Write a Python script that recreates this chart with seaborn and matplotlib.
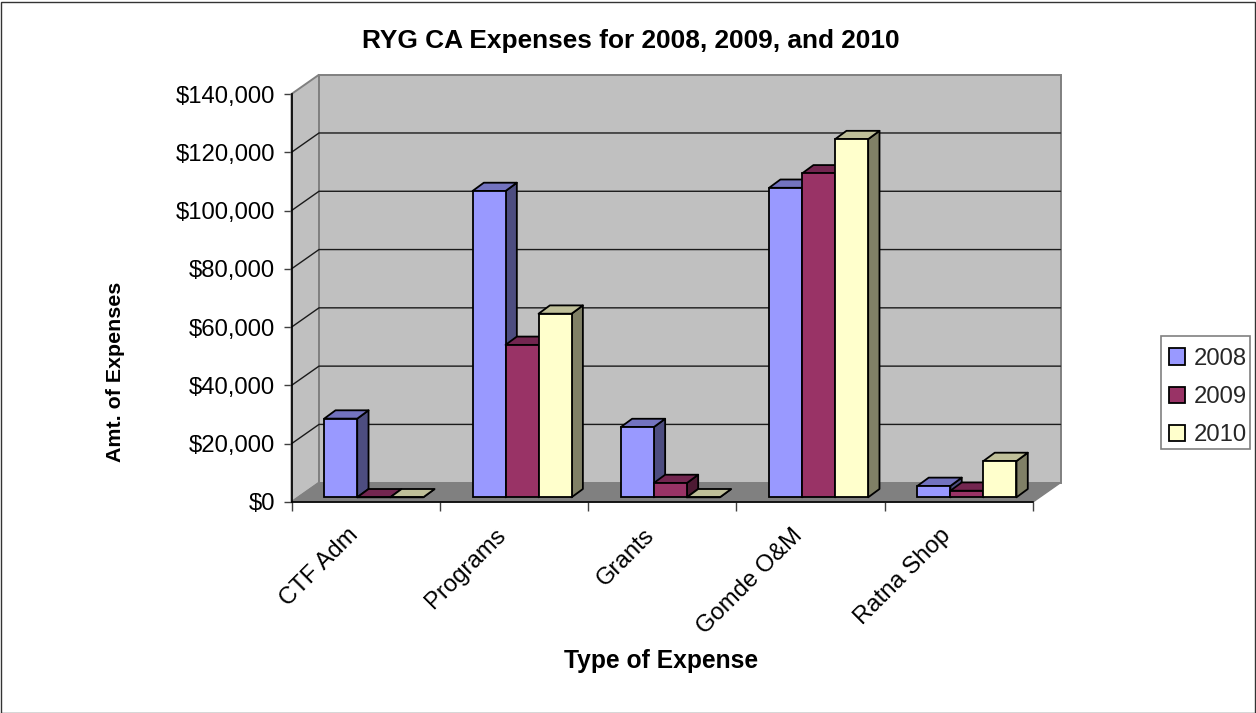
"""
RYG CA expenses, Excel style 3D columns drawn on a flat seaborn barplot
"""
import matplotlib
matplotlib.use('Agg')
import matplotlib.pyplot as plt
from matplotlib.patches import Polygon, Rectangle
from matplotlib.ticker import FuncFormatter
from matplotlib.transforms import ScaledTranslation
import pandas as pd
import seaborn as sns

categories = ['CTF Adm', 'Programs', 'Grants', 'Gomde O&M', 'Ratna Shop']
years = ['2008', '2009', '2010']
values_2008 = [27000, 105100, 24100, 106200, 3900]
values_2009 = [0, 52300, 4900, 111150, 2260]
values_2010 = [0, 63000, 0, 122900, 12450]
y_ticks = [0, 20000, 40000, 60000, 80000, 100000, 120000, 140000]

front_colors = {'2008': '#9999FF', '2009': '#993366', '2010': '#FFFFCC'}
top_colors = {'2008': '#7373BF', '2009': '#732650', '2010': '#BFBF99'}
side_colors = {'2008': '#4D4D80', '2009': '#4D1A33', '2010': '#808066'}

W, H = 1256, 713
# front plane of the chart in pixels
LEFT, RIGHT, BASE, TOP = 291.5, 1033, 502, 94
PX_X = 5 / (RIGHT - LEFT)
PX_Y = 140000 / (BASE - TOP)
# depth offsets
WALL_DX, WALL_DY = 27.5 * PX_X, 19.3 * PX_Y
BAR_DX, BAR_DY = 11.3 * PX_X, 8.3 * PX_Y
SHIFT_X, SHIFT_Y = 8.1 * PX_X, 4.7 * PX_Y

sns.set_theme(style='white')
plt.rcParams['font.family'] = ['Liberation Sans', 'DejaVu Sans']

df = pd.DataFrame({'Type': categories, '2008': values_2008,
                   '2009': values_2009, '2010': values_2010})
long_df = df.melt(id_vars='Type', var_name='Year', value_name='Amount')

fig = plt.figure(figsize=(W / 100, H / 100), dpi=100)
ax = fig.add_axes([LEFT / W, 1 - BASE / H, (RIGHT - LEFT) / W, (BASE - TOP) / H])
ax.patch.set_alpha(0)

sns.barplot(data=long_df, x='Type', y='Amount', hue='Year', order=categories,
            hue_order=years, palette=front_colors, saturation=1, width=0.668,
            gap=0, edgecolor='black', linewidth=1.3, ax=ax)
x0, x1 = -0.5, 4.5
ax.set_xlim(x0, x1)
ax.set_ylim(0, 140000)

# walls and floor
wall_kw = dict(edgecolor='#808080', linewidth=1.4, clip_on=False, zorder=1)
ax.add_patch(Polygon([(x0, 0), (x0 + WALL_DX, WALL_DY), (x0 + WALL_DX, 140000 + WALL_DY), (x0, 140000)],
                     facecolor='#C0C0C0', **wall_kw))
ax.add_patch(Polygon([(x0 + WALL_DX, WALL_DY), (x1 + WALL_DX, WALL_DY),
                      (x1 + WALL_DX, 140000 + WALL_DY), (x0 + WALL_DX, 140000 + WALL_DY)],
                     facecolor='#C0C0C0', **wall_kw))
ax.add_patch(Polygon([(x0, 0), (x1, 0), (x1 + WALL_DX, WALL_DY), (x0 + WALL_DX, WALL_DY)],
                     facecolor='#808080', edgecolor='#808080', linewidth=1, clip_on=False, zorder=1.1))

# gridlines on the back wall and the side wall
for v in y_ticks[1:-1]:
    ax.plot([x0, x0 + WALL_DX, x1 + WALL_DX], [v, v + WALL_DY, v + WALL_DY],
            color='#1A1A1A', lw=1.0, clip_on=False, zorder=1.2)

# turn each flat bar into a box
z = 3
for year, container in zip(years, ax.containers):
    for bar in container:
        bar.set_x(bar.get_x() + SHIFT_X)
        bar.set_y(bar.get_y() + SHIFT_Y)
        bx, by, bw, bh = bar.get_x(), bar.get_y(), bar.get_width(), bar.get_height()
        box_kw = dict(edgecolor='black', linewidth=1.3, joinstyle='round', clip_on=False)
        ax.add_patch(Polygon([(bx + bw, by), (bx + bw + BAR_DX, by + BAR_DY),
                              (bx + bw + BAR_DX, by + bh + BAR_DY), (bx + bw, by + bh)],
                             facecolor=side_colors[year], zorder=z, **box_kw))
        ax.add_patch(Polygon([(bx, by + bh), (bx + BAR_DX, by + bh + BAR_DY),
                              (bx + bw + BAR_DX, by + bh + BAR_DY), (bx + bw, by + bh)],
                             facecolor=top_colors[year], zorder=z + 0.1, **box_kw))
        bar.set_zorder(z + 0.2)
        bar.set_clip_on(False)
    z += 1

# axes
sns.despine(ax=ax)
for side in ['left', 'bottom']:
    ax.spines[side].set_color('black')
    ax.spines[side].set_linewidth(1.2)
    ax.spines[side].set_zorder(2.5)

ax.set_yticks(y_ticks)
ax.yaxis.set_major_formatter(FuncFormatter(lambda v, _: f'${v:,.0f}'))
ax.tick_params(axis='y', left=True, length=5.8, width=1, color='#404040', pad=6, labelsize=17.2, labelcolor='black')

ax.set_xticks([x0 + i for i in range(6)])
ax.set_xticklabels([])
ax.tick_params(axis='x', which='major', bottom=True, length=6.5, width=1, color='#404040')
ax.set_xticks(range(5), minor=True)
ax.set_xticklabels(categories, minor=True, rotation=45, ha='right', rotation_mode='anchor', fontsize=17.2, color='black')
ax.tick_params(axis='x', which='minor', bottom=False, length=0, pad=16)
# the slanted labels end left of the category centre
for label in ax.get_xticklabels(minor=True):
    label.set_transform(label.get_transform() + ScaledTranslation(-0.19, 0, fig.dpi_scale_trans))

ax.set_xlabel('')
ax.set_ylabel('')
fig.text(631 / W, 1 - 41 / H, 'RYG CA Expenses for 2008, 2009, and 2010', ha='center', va='center',
         fontsize=18.9, fontweight='bold', color='black')
fig.text(661 / W, 1 - 661 / H, 'Type of Expense', ha='center', va='center',
         fontsize=17.7, fontweight='bold', color='black')
fig.text(116 / W, 1 - 372 / H, 'Amt. of Expenses', ha='center', va='center', rotation=90,
         fontsize=15.4, fontweight='bold', color='black')

# legend, frame drawn apart and below the axes so the box can sit tighter than the entries
fig.add_artist(Rectangle((1161 / W, 1 - 449 / H), 89 / W, 113 / H, transform=fig.transFigure,
                         facecolor='white', edgecolor='#808080', linewidth=1.2, zorder=-1))
handles, labels = ax.get_legend_handles_labels()
ax.legend(handles, labels, loc='upper left', bbox_to_anchor=(1169 / W, 1 - 348 / H),
          bbox_transform=fig.transFigure, fontsize=17.2, frameon=False,
          borderaxespad=0, borderpad=0,
          handlelength=0.67, handleheight=0.67, handletextpad=0.35, labelspacing=0.68)

# chart area border
fig.add_artist(Rectangle((0.5 / W, 0.5 / H), (W - 2) / W, (H - 2) / H, transform=fig.transFigure,
                         facecolor='none', edgecolor='#333333', linewidth=1))

fig.savefig('out.png', dpi=100)
